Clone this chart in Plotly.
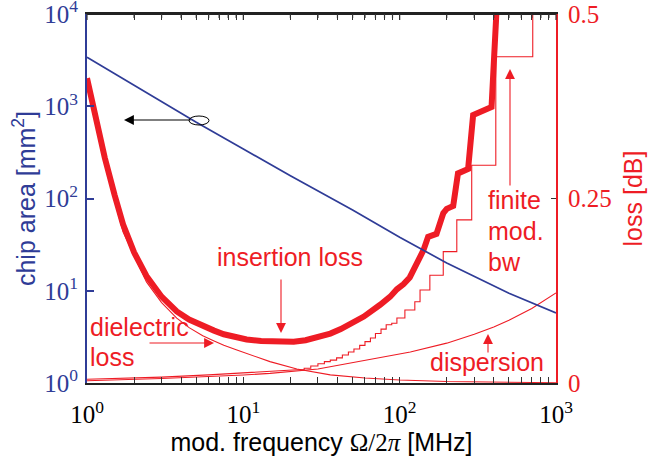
import math
import plotly.graph_objects as go

# ---------------- data ----------------
area_freq = [1, 2, 5, 10, 20, 50, 100, 200, 500, 1000]
area_mm2 = [3400, 1680, 670, 345, 176, 75, 38, 20, 9.4, 5.75]

il_freq = [1, 1.15, 1.3, 1.5, 1.7, 2.0, 2.4, 3.0, 3.75, 4.5, 5.5, 6.5, 7.5, 9, 10.5, 13, 17,
           21, 25, 30, 36, 42, 48, 59, 75, 87, 96, 106, 116, 135, 142, 152, 172, 190, 200,
           220, 236, 274, 295, 387, 420]
il_loss = [0.413, 0.355, 0.305, 0.255, 0.215, 0.177, 0.145, 0.117, 0.097, 0.086, 0.077,
           0.071, 0.066, 0.062, 0.059, 0.057, 0.056, 0.056, 0.058, 0.062, 0.067, 0.073,
           0.079, 0.090, 0.106, 0.117, 0.127, 0.134, 0.143, 0.172, 0.180, 0.198, 0.202,
           0.230, 0.236, 0.240, 0.284, 0.290, 0.363, 0.374, 0.52]

diel_freq = [1, 1.3, 1.7, 2.4, 3.0, 3.75, 4.5, 5.5, 6.5, 7.5, 9, 10.5, 14.8, 22, 36, 60,
             100, 200, 500, 1000]
diel_loss = [0.405, 0.296, 0.205, 0.137, 0.109, 0.088, 0.075, 0.064, 0.057, 0.051, 0.045,
             0.040, 0.029, 0.019, 0.011, 0.0068, 0.0041, 0.002, 0.0008, 0.0004]

disp_freq = [1, 3, 10, 14.8, 30, 48, 70, 117, 200, 300, 400, 500, 700, 1000]
disp_loss = [0.003, 0.006, 0.0108, 0.013, 0.019, 0.027, 0.033, 0.042, 0.054, 0.066,
             0.076, 0.085, 0.101, 0.122]

bw_smooth_freq = [1, 3, 6, 10, 15, 22]
bw_smooth_loss = [0.005, 0.008, 0.011, 0.014, 0.0165, 0.018]

bw_step_freq = [22, 24.5, 27, 30, 33, 36, 39.5, 43, 47, 51, 55.5, 60, 65, 70, 76, 82, 89,
                96, 108, 125, 135, 156, 190, 232, 289, 412, 710, 710]
bw_step_loss = [0.018, 0.020, 0.023, 0.026, 0.029, 0.031, 0.034, 0.038, 0.042, 0.046,
                0.051, 0.056, 0.061, 0.067, 0.073, 0.079, 0.081, 0.088, 0.099, 0.110,
                0.126, 0.146, 0.178, 0.221, 0.295, 0.442, 0.6, 0.6]

x_tickvals = [1, 10, 100, 1000]
x_ticktext = ["10<sup>0</sup>", "10<sup>1</sup>", "10<sup>2</sup>", "10<sup>3</sup>"]
y_tickvals = [1, 10, 100, 1000, 10000]
y_ticktext = ["10<sup>0</sup>", "10<sup>1</sup>", "10<sup>2</sup>", "10<sup>3</sup>", "10<sup>4</sup>"]
loss_tickvals = [0, 0.25, 0.5]
loss_ticktext = ["0", "0.25", "0.5"]

# ---------------- style ----------------
BLUE = "#2f3c97"
RED = "#ee1c25"
SERIF = "Liberation Serif"
SANS = "Liberation Sans"
FS = 25
PLOT_H = 369.0

fig = go.Figure()

thin = dict(color=RED, width=1.1)
fig.add_trace(go.Scatter(x=diel_freq, y=diel_loss, mode="lines", line=thin, yaxis="y"))
fig.add_trace(go.Scatter(x=disp_freq, y=disp_loss, mode="lines", line=thin, yaxis="y"))
fig.add_trace(go.Scatter(x=bw_smooth_freq, y=bw_smooth_loss, mode="lines", line=thin, yaxis="y"))
fig.add_trace(go.Scatter(x=bw_step_freq, y=bw_step_loss, mode="lines",
                         line=dict(color=RED, width=1.1, shape="hv"), yaxis="y"))
fig.add_trace(go.Scatter(x=il_freq, y=il_loss, mode="lines",
                         line=dict(color=RED, width=6), yaxis="y"))
fig.add_trace(go.Scatter(x=area_freq, y=area_mm2, mode="lines",
                         line=dict(color=BLUE, width=1.7), yaxis="y2"))

minor_vals = [m * d for d in (1, 10, 100) for m in range(2, 10)]

fig.update_layout(
    width=648, height=459,
    margin=dict(l=87, r=92, t=14, b=76, autoexpand=False),
    paper_bgcolor="white", plot_bgcolor="white",
    showlegend=False,
    xaxis=dict(
        type="log", range=[0, 3], automargin=False,
        tickvals=x_tickvals, ticktext=x_ticktext,
        tickfont=dict(family=SERIF, size=FS, color="black"),
        ticks="inside", ticklen=6, tickwidth=1.2, tickcolor="#333",
        minor=dict(ticks="inside", ticklen=4, tickwidth=1.2, tickcolor="#333",
                   tickvals=minor_vals, showgrid=False),
        showline=True, linecolor="#222", linewidth=2, mirror="allticks",
        showgrid=False, zeroline=False,
        ticklabelstandoff=8, ticklabeloverflow="allow",
        title=dict(text="mod. frequency <span style='font-family:Liberation Serif'>Ω/2<i>π</i></span> [MHz]",
                   font=dict(family=SANS, size=FS, color="black"), standoff=6),
    ),
    yaxis=dict(
        side="right", range=[0, 0.5], automargin=False,
        tickvals=loss_tickvals, ticktext=loss_ticktext,
        tickfont=dict(family=SERIF, size=FS, color=RED),
        ticks="inside", ticklen=5, tickwidth=1.2, tickcolor="#333",
        ticklabelstandoff=5, ticklabeloverflow="allow",
        showline=True, linecolor=RED, linewidth=2,
        showgrid=False, zeroline=False,
        title=dict(text="loss [dB]", font=dict(family=SANS, size=FS, color=RED), standoff=14),
    ),
    yaxis2=dict(
        type="log", range=[0, 4], overlaying="y", side="left", automargin=False,
        tickvals=y_tickvals, ticktext=y_ticktext,
        tickfont=dict(family=SERIF, size=FS, color=BLUE),
        ticks="inside", ticklen=7, tickwidth=1.5, tickcolor=BLUE,
        ticklabelstandoff=2, ticklabeloverflow="allow",
        showline=True, linecolor=BLUE, linewidth=2,
        showgrid=False, zeroline=False,
        title=dict(text="chip area [mm<sup>2</sup>]", font=dict(family=SANS, size=FS, color=BLUE), standoff=2),
    ),
)

# top frame line and its inward ticks (mirror of the frequency axis)
fig.add_shape(type="line", xref="paper", yref="paper", x0=0, x1=1, y0=1, y1=1,
              line=dict(color="#222", width=2), layer="above")
for v in x_tickvals + minor_vals:
    xp = math.log10(v) / 3.0
    ln = 6 if v in x_tickvals else 4
    fig.add_shape(type="line", xref="paper", yref="paper", x0=xp, x1=xp,
                  y0=1, y1=1 - ln / PLOT_H, line=dict(color="#333", width=1.2), layer="above")

def px2paper(px, py):
    return (px - 87) / 469.0, (383 - py) / PLOT_H

def label(text, px, py, xanchor="center", color=RED):
    x, y = px2paper(px, py)
    fig.add_annotation(x=x, y=y, xref="paper", yref="paper", text=text, showarrow=False,
                       xanchor=xanchor, yanchor="middle",
                       font=dict(family=SANS, size=FS, color=color))

def arrow(tip, tail, color=RED):
    x, y = px2paper(*tip)
    fig.add_annotation(x=x, y=y, xref="paper", yref="paper", text="",
                       showarrow=True, axref="pixel", ayref="pixel",
                       ax=tail[0] - tip[0], ay=tail[1] - tip[1],
                       arrowhead=2, arrowsize=1.8, arrowwidth=1.1, arrowcolor=color)

label("insertion loss", 290, 257)
arrow((281, 333), (281, 278))
label("dielectric", 88, 327, xanchor="left")
label("loss", 88, 357, xanchor="left")
arrow((214, 343), (148, 343))
label("dispersion", 428, 362, xanchor="left")
arrow((488, 334), (488, 354))
label("finite", 486, 200, xanchor="left")
label("mod.", 486, 231, xanchor="left")
label("bw", 486, 262, xanchor="left")
arrow((510, 69), (510, 187))
arrow((124, 120), (192, 120), color="black")

x0, y0 = px2paper(189, 125)
x1, y1 = px2paper(209, 116)
fig.add_shape(type="circle", xref="paper", yref="paper", x0=x0, y0=y0, x1=x1, y1=y1,
              line=dict(color="black", width=1))

fig.write_html("out.html")
